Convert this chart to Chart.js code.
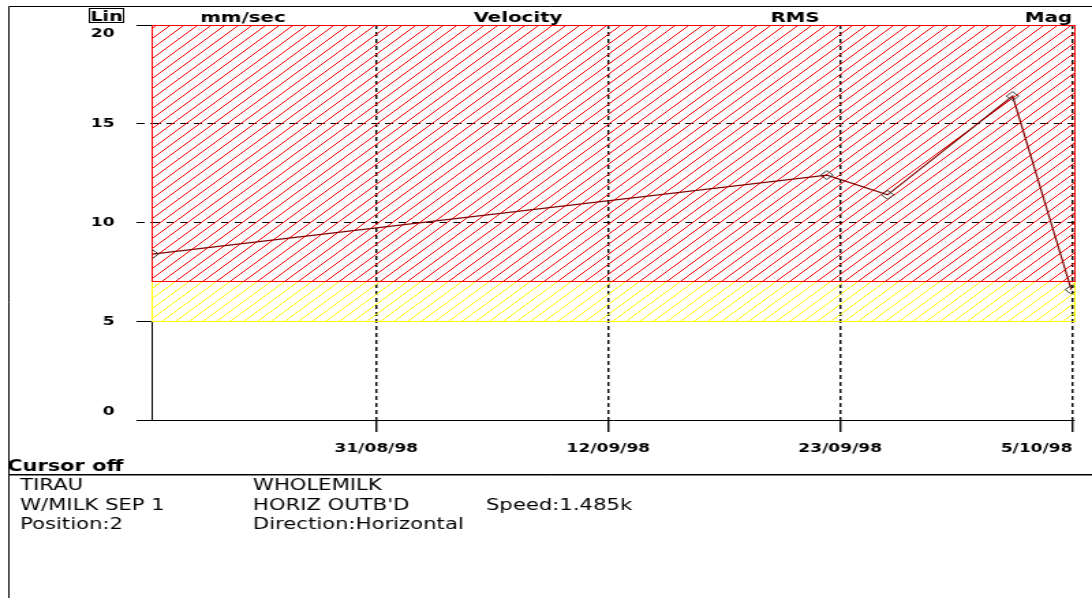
<!DOCTYPE html>
<html>
<head>
<meta charset="utf-8">
<script src="https://cdn.jsdelivr.net/npm/chart.js@4/dist/chart.umd.min.js"></script>
<style>
  html, body { margin: 0; padding: 0; background: #fff; overflow: hidden; width: 1092px; height: 598px; }
  /* the trend screen is laid out on an 800px grid and stretched to the window width */
  #stage { position: absolute; left: 0; top: 0; width: 800px; height: 598px;
           transform: scaleX(1.365); transform-origin: 0 0; }
</style>
</head>
<body>
<div id="stage"><canvas id="trend"></canvas></div>
<script>
// Measurement dates, in days counted from 31/08/98
const readingDays = [-11.26, 22.66, 25.71, 32.0, 34.95];
// Overall velocity, RMS, in mm/sec
const velocityRms = [8.4, 12.4, 11.4, 16.4, 6.6];

// Date axis: four evenly spaced ticks with their date labels
const dateTickDays = [0, 11.67, 23.33, 35];
const dateTickLabels = ['31/08/98', '12/09/98', '23/09/98', '5/10/98'];
const dateRange = [-11.3, 35.1];

// Velocity axis
const velocityTicks = [0, 5, 10, 15, 20];
const velocityRange = [0, 20];

// Alarm bands, mm/sec
const alertBand = [5, 7];
const dangerBand = [7, 20];

// Screen header and measurement point description
const scaleMode = 'Lin';
const headerWords = ['mm/sec', 'Velocity', 'RMS', 'Mag'];
const cursorState = 'Cursor off';
const infoColumns = [
  ['TIRAU', 'W/MILK SEP 1', 'Position:2'],
  ['WHOLEMILK', "HORIZ OUTB'D", 'Direction:Horizontal'],
  ['', 'Speed:1.485k', '']
];

const BOLD = '"DejaVu Sans", "Liberation Sans", sans-serif';
const PLAIN = '"DejaVu Sans", "Liberation Sans", sans-serif';

function alignPx(v) { return Math.round(v - 0.5) + 0.5; }

// diagonal hatch tile for the alarm bands
function hatchTile(color) {
  const c = document.createElement('canvas');
  c.width = 10; c.height = 10;
  const g = c.getContext('2d');
  g.strokeStyle = color;
  g.lineWidth = 1;
  g.beginPath();
  g.moveTo(0, 10); g.lineTo(10, 0);
  g.moveTo(-1, 1); g.lineTo(1, -1);
  g.moveTo(9, 11); g.lineTo(11, 9);
  g.stroke();
  return c;
}

const alarmBands = {
  id: 'alarmBands',
  beforeDatasetsDraw(chart) {
    const ctx = chart.ctx;
    const y = chart.scales.y;
    const { left, right } = chart.chartArea;
    const draw = (band, color) => {
      const top = y.getPixelForValue(band[1]);
      const bot = y.getPixelForValue(band[0]);
      ctx.save();
      ctx.fillStyle = ctx.createPattern(hatchTile(color), 'repeat');
      ctx.fillRect(left, top, right - left, bot - top);
      ctx.strokeStyle = color;
      ctx.lineWidth = 1;
      const l = alignPx(left), r = alignPx(right), t = alignPx(top), b = alignPx(bot);
      ctx.strokeRect(l, t, r - l, b - t);
      ctx.restore();
    };
    draw(alertBand, '#ffff00');
    draw(dangerBand, '#ff0000');
  }
};

const screenText = {
  id: 'screenText',
  afterDraw(chart) {
    const ctx = chart.ctx;
    const W = chart.width, H = chart.height;
    ctx.save();
    ctx.strokeStyle = '#000';
    ctx.lineWidth = 1;
    // window frame
    ctx.beginPath();
    ctx.moveTo(6.5, H); ctx.lineTo(6.5, 6.5); ctx.lineTo(W, 6.5);
    ctx.stroke();

    // scale mode box
    ctx.strokeRect(65.5, 8.5, 25, 14);
    ctx.fillStyle = '#000';
    ctx.font = 'bold 14px ' + BOLD;
    ctx.textAlign = 'center';
    ctx.textBaseline = 'alphabetic';
    ctx.fillText(scaleMode, 78, 21);

    // header words
    ctx.font = 'bold 14.5px ' + BOLD;
    const headerX = [178, 379.5, 582.4, 768];
    headerWords.forEach((w, i) => ctx.fillText(w, headerX[i], 22));

    // cursor line and separator
    ctx.textAlign = 'left';
    ctx.font = 'bold 15.3px ' + BOLD;
    ctx.fillText(cursorState, 5.3, 471);
    ctx.beginPath();
    ctx.moveTo(6, 474.5); ctx.lineTo(W, 474.5);
    ctx.stroke();
    ctx.strokeStyle = '#808080';
    ctx.beginPath();
    ctx.moveTo(7, 475.5); ctx.lineTo(W, 475.5);
    ctx.stroke();

    // measurement point description
    ctx.font = '15.5px ' + PLAIN;
    const colX = [14.7, 185.3, 356];
    const rowY = [490, 509.5, 529];
    infoColumns.forEach((col, c) => col.forEach((txt, r) => {
      if (txt) ctx.fillText(txt, colX[c], rowY[r]);
    }));
    ctx.restore();
  }
};

const tickFont = { family: BOLD, size: 12.5, weight: 'bold' };

new Chart(document.getElementById('trend'), {
  type: 'line',
  data: {
    datasets: [{
      data: readingDays.map((d, i) => ({ x: d, y: velocityRms[i] })),
      borderColor: '#800000',
      borderWidth: 1.2,
      tension: 0,
      pointStyle: 'rectRot',
      pointRadius: 4.5,
      pointBorderWidth: 1,
      pointBorderColor: '#303030',
      pointBackgroundColor: 'rgba(0,0,0,0)'
    }]
  },
  options: {
    responsive: true,
    maintainAspectRatio: false,
    animation: false,
    events: [],
    layout: { padding: { top: 25, right: 13, bottom: 138, left: 0 } },
    plugins: { legend: { display: false }, tooltip: { enabled: false }, title: { display: false } },
    scales: {
      x: {
        type: 'linear',
        min: dateRange[0],
        max: dateRange[1],
        afterBuildTicks: s => { s.ticks = dateTickDays.map(v => ({ value: v })); },
        afterFit: s => { s.height = 40; s.paddingLeft = 0; s.paddingRight = 0; },
        ticks: {
          autoSkip: false,
          maxRotation: 0,
          color: '#000',
          font: tickFont,
          padding: 9,
          // the final date sits flush against its tick at the plot edge
          callback: (v, i, t) => i === t.length - 1
            ? dateTickLabels[i] + '\u2007'.repeat(dateTickLabels[i].length - 1)
            : dateTickLabels[i]
        },
        grid: {
          color: '#000',
          lineWidth: 1.4,
          tickLength: 12,
          tickWidth: 1.4,
          tickBorderDash: []
        },
        border: { color: '#000', width: 1, dash: [4, 3] }
      },
      y: {
        min: velocityRange[0],
        max: velocityRange[1],
        afterBuildTicks: s => { s.ticks = velocityTicks.map(v => ({ value: v })); },
        afterFit: s => { s.width = 111; s.paddingTop = 0; s.paddingBottom = 0; },
        ticks: {
          color: '#000',
          font: Object.assign({ lineHeight: 1.4 }, tickFont),
          padding: 16,
          // end labels are nudged inward, away from the plot corners
          callback: (v, i, t) => i === 0 ? [String(v), '']
            : i === t.length - 1 ? ['', String(v)] : String(v)
        },
        grid: {
          color: '#000',
          lineWidth: 1,
          tickLength: 11,
          tickBorderDash: c => (c.tick && c.tick.value > dangerBand[0] && c.tick.value < dangerBand[1]) ? [6, 4] : []
        },
        border: { color: '#000', width: 1, dash: [6, 4] }
      }
    }
  },
  plugins: [alarmBands, screenText]
});
</script>
</body>
</html>
